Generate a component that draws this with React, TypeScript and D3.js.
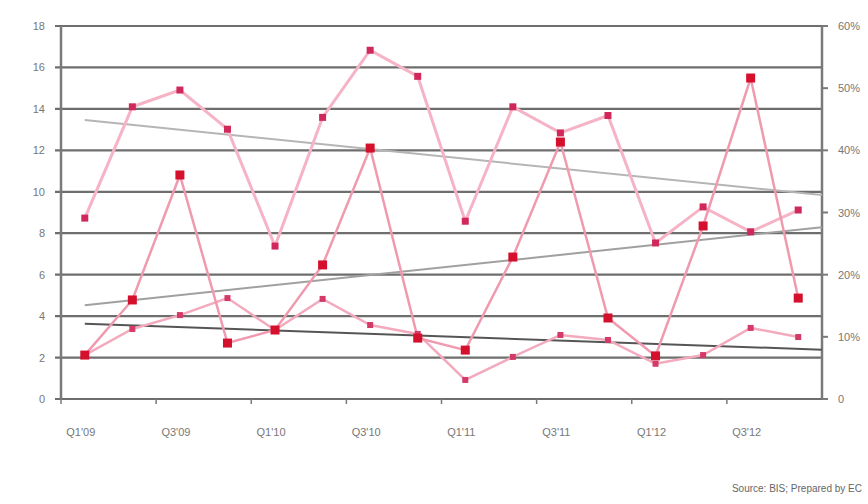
import React from "react";
import * as d3 from "d3";

const categories = ["Q1'09","Q2'09","Q3'09","Q4'09","Q1'10","Q2'10","Q3'10","Q4'10","Q1'11","Q2'11","Q3'11","Q4'11","Q1'12","Q2'12","Q3'12","Q4'12"];
const xLabels = ["Q1'09","Q3'09","Q1'10","Q3'10","Q1'11","Q3'11","Q1'12","Q3'12"];
// right axis (%)
const seriesA = [29.1, 47.0, 49.7, 43.4, 24.6, 45.3, 56.1, 51.9, 28.6, 47.0, 42.8, 45.6, 25.1, 30.9, 26.9, 30.4];
// left axis
const seriesB = [2.12, 4.78, 10.81, 2.7, 3.33, 6.47, 12.11, 2.94, 2.36, 6.85, 12.4, 3.91, 2.08, 8.35, 15.49, 4.87];
const seriesC = [2.12, 3.38, 4.05, 4.87, 3.33, 4.83, 3.57, 3.14, 0.92, 2.03, 3.09, 2.85, 1.7, 2.12, 3.43, 2.99];
const leftTicks = [0, 2, 4, 6, 8, 10, 12, 14, 16, 18];
const rightTicks = [0, 10, 20, 30, 40, 50, 60];
const sourceText = "Source: BIS; Prepared by EC";

const W = 868, H = 504;
const L = 61, R = 822, T = 26, B = 399;

function regression(vals: number[]) {
  const xs = vals.map((_, i) => i);
  const mx = d3.mean(xs)!, my = d3.mean(vals)!;
  let num = 0, den = 0;
  xs.forEach((x, i) => { num += (x - mx) * (vals[i] - my); den += (x - mx) ** 2; });
  const b = num / den;
  return (x: number) => my + b * (x - mx);
}

export default function App() {
  const x = d3.scaleBand<string>().domain(categories).range([L, R]).padding(0);
  const cx = (i: number) => x(categories[i])! + x.bandwidth() / 2;
  const yL = d3.scaleLinear().domain([0, 18]).range([B, T]);
  const yR = d3.scaleLinear().domain([0, 60]).range([B, T]);
  const idx = categories.map((_, i) => i);

  const lineOf = (vals: number[], y: d3.ScaleLinear<number, number>) =>
    d3.line<number>().x((_, i) => cx(i)).y((v) => y(v))(vals) || "";

  const trend = (vals: number[], y: d3.ScaleLinear<number, number>) => {
    const f = regression(vals);
    const n = vals.length;
    const xEnd = (R - cx(0)) / x.step();
    return d3.line<number>().x((t) => cx(0) + t * x.step()).y((t) => y(f(t)))([0, xEnd]) || "";
  };

  const axisColor = "#7a7a7a";
  const labelColor = "#777";

  return (
    <svg width={W} height={H} style={{ position: "fixed", left: 0, top: 0, background: "#fff" }}
      fontFamily="Arial, 'Liberation Sans', sans-serif">
      {/* grid */}
      {leftTicks.map((t) => (
        <g key={"g" + t}>
          <line x1={L - 6} x2={R} y1={yL(t)} y2={yL(t)} stroke="#6e6e6e" strokeWidth={2.2} />
          <text x={45} y={yL(t) + 4} textAnchor="end" fontSize={11} fill={labelColor}>{t}</text>
        </g>
      ))}
      {rightTicks.map((t) => (
        <g key={"r" + t}>
          <line x1={R} x2={R + 6} y1={yR(t)} y2={yR(t)} stroke={axisColor} strokeWidth={2} />
          <text x={838} y={yR(t) + 4} textAnchor="start" fontSize={11} fill={labelColor}>{t === 0 ? "0" : t + "%"}</text>
        </g>
      ))}
      <line x1={L} x2={L} y1={T} y2={B} stroke={axisColor} strokeWidth={2.5} />
      <line x1={R} x2={R} y1={T} y2={B} stroke={axisColor} strokeWidth={2.5} />
      {/* x ticks and labels */}
      {idx.filter((i) => i % 2 === 0).map((i) => (
        <g key={"x" + i}>
          <line x1={x(categories[i])!} x2={x(categories[i])!} y1={B} y2={B + 5} stroke={axisColor} strokeWidth={1.5} />
          <text x={cx(i) - 4} y={436} textAnchor="middle" fontSize={11} fill={labelColor}>{xLabels[i / 2]}</text>
        </g>
      ))}
      {/* trend lines */}
      <path d={trend(seriesA, yR)} fill="none" stroke="#b5b5b5" strokeWidth={2} />
      <path d={trend(seriesB, yL)} fill="none" stroke="#a0a0a0" strokeWidth={2} />
      <path d={trend(seriesC, yL)} fill="none" stroke="#555" strokeWidth={2} />
      {/* series lines */}
      <path d={lineOf(seriesA, yR)} fill="none" stroke="#f6b3c6" strokeWidth={3} />
      <path d={lineOf(seriesC, yL)} fill="none" stroke="#f3aabd" strokeWidth={2.5} />
      <path d={lineOf(seriesB, yL)} fill="none" stroke="#f09ab0" strokeWidth={2.5} />
      {/* markers */}
      {seriesA.map((v, i) => (
        <rect key={"ma" + i} x={cx(i) - 3.5} y={yR(v) - 3.5} width={7} height={7} fill="#d0285a" />
      ))}
      {seriesC.map((v, i) => (
        <rect key={"mc" + i} x={cx(i) - 3} y={yL(v) - 3} width={6} height={6} fill="#d43a68" />
      ))}
      {seriesB.map((v, i) => (
        <rect key={"mb" + i} x={cx(i) - 4.5} y={yL(v) - 4.5} width={9} height={9} fill="#d4102c" />
      ))}
      <text x={862} y={492} textAnchor="end" fontSize={10} fill="#666">{sourceText}</text>
    </svg>
  );
}
